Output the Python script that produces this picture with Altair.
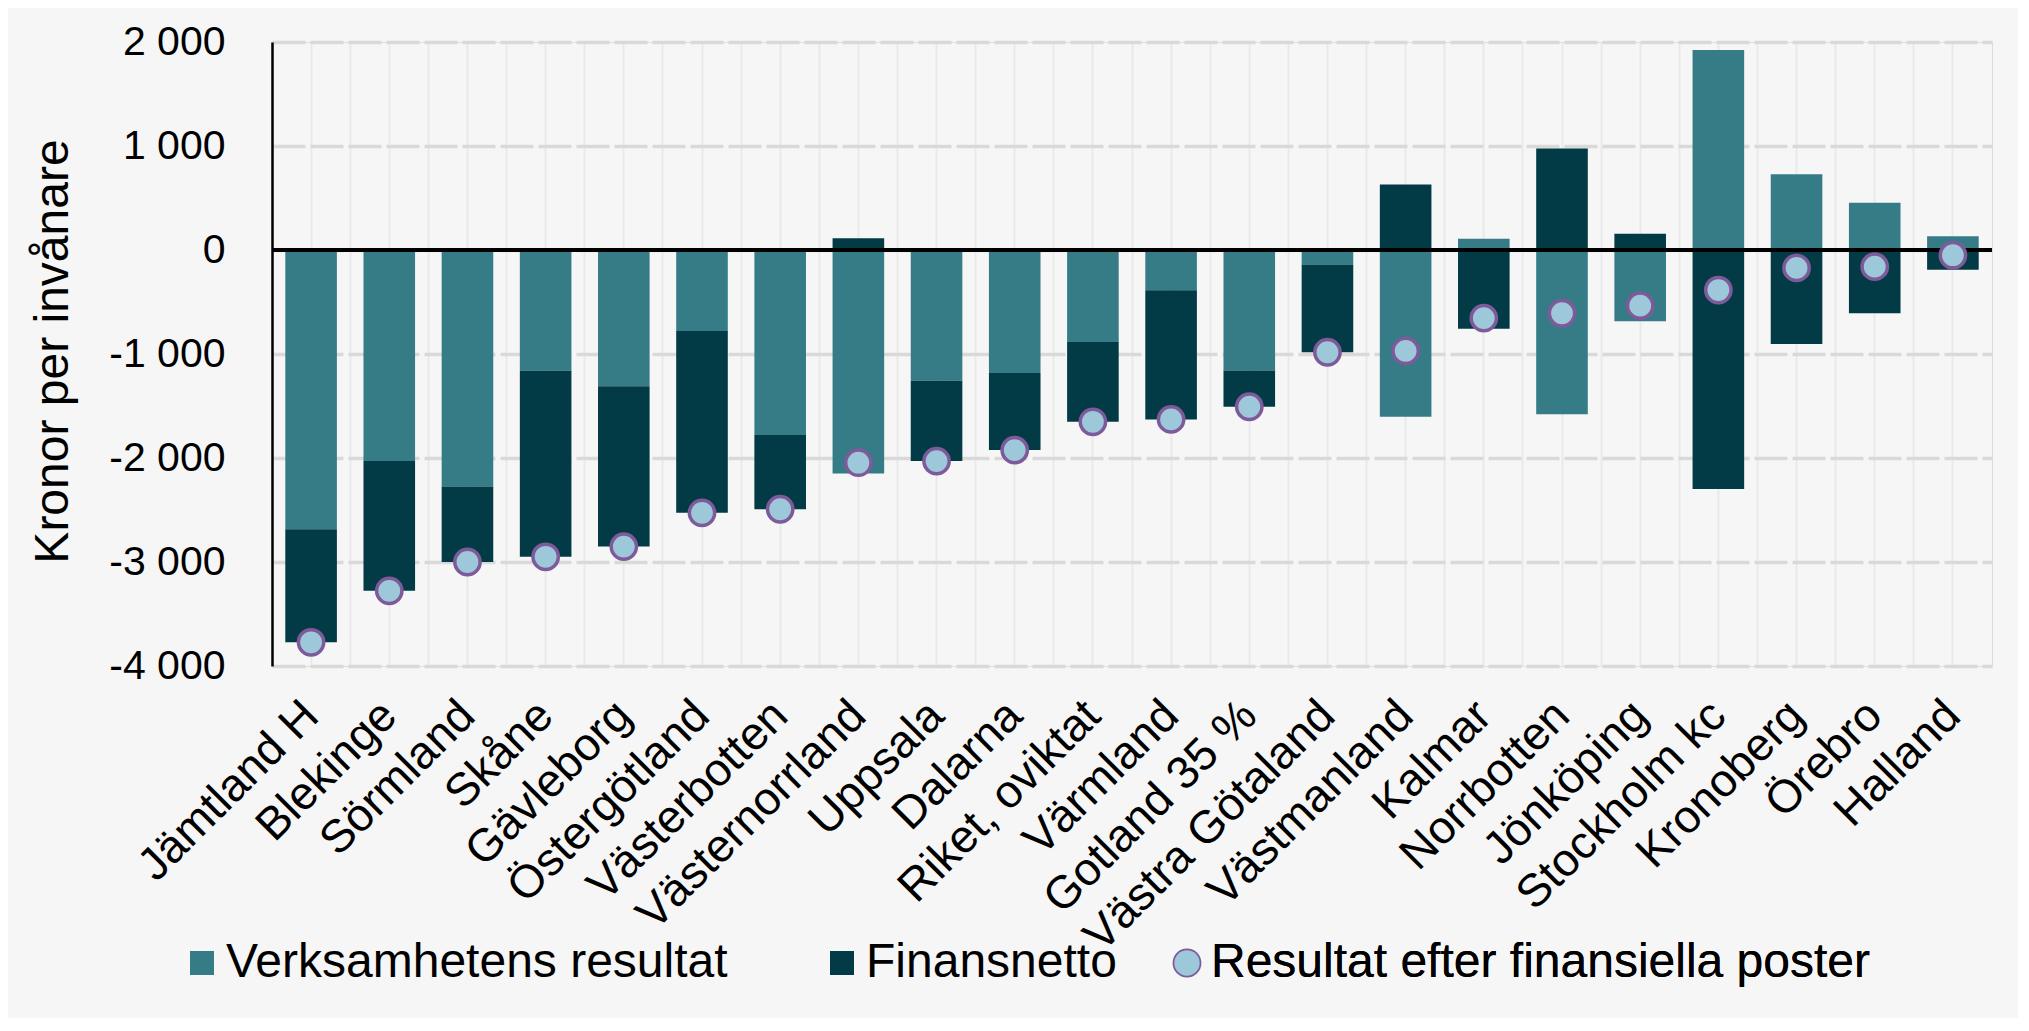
import altair as alt
import pandas as pd

regions = ["Jämtland H", "Blekinge", "Sörmland", "Skåne", "Gävleborg", "Östergötland",
           "Västerbotten", "Västernorrland", "Uppsala", "Dalarna", "Riket, oviktat",
           "Värmland", "Gotland 35 %", "Västra Götaland", "Västmanland", "Kalmar",
           "Norrbotten", "Jönköping", "Stockholm kc", "Kronoberg", "Örebro", "Halland"]

verksamhet = [-2685, -2030, -2275, -1160, -1310, -780, -1780, -2150, -1258, -1182, -884,
              -387, -1159, -139, -1603, 109, -1579, -685, 1924, 728, 454, 132]

finansnetto = [-1087, -1247, -725, -1790, -1542, -1747, -713, 113, -772, -742, -768,
               -1242, -348, -844, 629, -758, 977, 156, -2298, -904, -609, -189]

resultat = [-3772, -3277, -3000, -2950, -2852, -2527, -2493, -2045, -2030, -1924, -1652,
            -1629, -1507, -983, -970, -655, -608, -535, -385, -172, -160, -50]

series = ["Verksamhetens resultat", "Finansnetto"]
series_colors = ["#367c87", "#023b45"]
point_label = "Resultat efter finansiella poster"
y_ticks = [-4000, -3000, -2000, -1000, 0, 1000, 2000]

FONT = "Liberation Sans"
FS = 46
LFS = 48

rows = []
for i, r in enumerate(regions):
    rows.append({"region": r, "serie": series[0], "value": verksamhet[i], "ord": 0})
    rows.append({"region": r, "serie": series[1], "value": finansnetto[i], "ord": 1})
bars_df = pd.DataFrame(rows)
pts_df = pd.DataFrame({"region": regions, "value": resultat, "serie": [point_label] * len(regions)})

xscale = alt.Scale(domain=regions, paddingInner=0, paddingOuter=0)
yscale = alt.Scale(domain=[-4000, 2000], nice=False, zero=False)

label_expr = ("datum.value == 0 ? '0' : (datum.value < 0 ? '-' : '') + "
              "format(abs(datum.value) / 1000, 'd') + ' 000'")

y_axis = alt.Axis(values=y_ticks, labelExpr=label_expr, labelFontSize=41, labelFont=FONT,
                  labelColor="#000000", labelPadding=47, ticks=False, tickSize=0,
                  domain=True, domainColor="#000000", domainWidth=2.5,
                  grid=True, gridColor="#d9d9d9", gridWidth=3.5, gridDash=[33, 5],
                  titleFontSize=48, titleFont=FONT, titleFontWeight="normal",
                  titleColor="#000000", titleX=-205, titleY=309, titleAngle=-90,
                  titleBaseline="alphabetic", titleAlign="center")

bars = alt.Chart(bars_df).mark_bar(width=alt.RelativeBandSize(0.66)).encode(
    x=alt.X("region:N", scale=xscale, title=None,
            axis=alt.Axis(labelAngle=-45, labelAlign="right", labelBaseline="middle",
                          labelPadding=42, labelFontSize=FS, labelFont=FONT, labelColor="#000000",
                          labelLimit=1000, ticks=False, tickSize=0, domain=False,
                          grid=True, bandPosition=0, gridColor="#e9e9e9", gridWidth=2,
                          labelOverlap=False)),
    y=alt.Y("value:Q", stack="zero", scale=yscale, title="Kronor per invånare", axis=y_axis),
    fill=alt.Fill("serie:N", scale=alt.Scale(domain=series, range=series_colors),
                  legend=alt.Legend(title=None, orient="none", legendX=-94, legendY=897,
                                    direction="horizontal", columns=2, columnPadding=90,
                                    labelFontSize=LFS, labelFont=FONT, labelColor="#000000",
                                    labelLimit=2000, labelOffset=0, symbolType="square",
                                    symbolSize=576, symbolStrokeWidth=0, padding=0)),
    order=alt.Order("ord:Q"),
)

zero_rule = alt.Chart(pts_df).mark_rule(color="#000000", strokeWidth=2.5).encode(
    y=alt.datum(0)
)

pt_legend = alt.Legend(title=None, orient="none", legendX=891, legendY=897,
                       direction="horizontal", labelFontSize=LFS, labelFont=FONT,
                       labelColor="#000000", labelLimit=2000, labelOffset=0,
                       symbolType="circle", symbolStrokeWidth=3.5, symbolSize=640,
                       symbolOpacity=1, padding=0)

points = alt.Chart(pts_df).mark_point(filled=True, strokeWidth=3.5, size=640, opacity=1).encode(
    x=alt.X("region:N", scale=xscale, title=None,
            axis=alt.Axis(orient="top", labels=False, ticks=False, domain=False, grid=True,
                          bandPosition=0.5, gridColor="#e9e9e9", gridWidth=2)),
    y=alt.Y("value:Q", scale=yscale, title="Kronor per invånare", axis=y_axis),
    fill=alt.Fill("serie:N", scale=alt.Scale(domain=[point_label], range=["#9cc8da"]),
                  legend=pt_legend),
    stroke=alt.Stroke("serie:N", scale=alt.Scale(domain=[point_label], range=["#7e5a9b"]),
                      legend=pt_legend),
)

chart = alt.layer(bars, zero_rule, points).resolve_axis(x="independent").resolve_scale(
    fill="independent"
).properties(
    width=1720,
    height=624,
    background="#f6f6f6",
    autosize=alt.AutoSizeParams(type="none"),
    padding={"left": 264, "top": 34, "right": 26, "bottom": 352},
).configure_view(strokeWidth=0, fill="#f6f6f6").configure(font=FONT)

chart.save("out.html", embed_options={"renderer": "svg", "actions": False})
